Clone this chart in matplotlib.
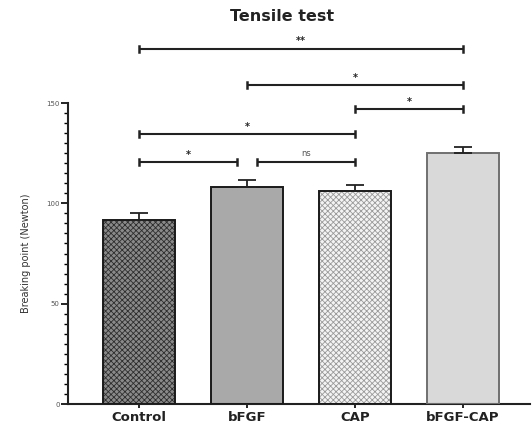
import numpy as np
import matplotlib
matplotlib.use("Agg")
import matplotlib.pyplot as plt

# =========================
# DATA
# =========================
groups = ["Control", "bFGF", "CAP", "bFGF-CAP"]
means = [91.5, 108.3, 106.3, 125.2]
errors = [3.5, 3.5, 3.0, 3.0]

# significance brackets: (left group, right group, label, height)
sig_pairs = [(0, 1), (1, 2), (0, 2), (2, 3), (1, 3), (0, 3)]
sig_labels = ["*", "ns", "*", "*", "*", "**"]
sig_heights = [120.5, 120.5, 134.5, 147.0, 159.0, 177.0]

# =========================
# STYLE
# =========================
face_colors = ["#8a8a8a", "#a9a9a9", "#f4f4f4", "#d9d9d9"]
hatch_colors = ["#2e2e2e", "#a9a9a9", "#9a9a9a", "#d9d9d9"]
hatches = ["xxxxxx", "", "xxxxxx", ""]
outline_colors = ["#1a1a1a", "#1a1a1a", "#1a1a1a", "#707070"]

plt.rcParams["font.family"] = "DejaVu Sans"
plt.rcParams["hatch.linewidth"] = 0.6

fig = plt.figure(figsize=(5.32, 4.25), dpi=100)
ax = fig.add_axes([0.128, 0.0494, 0.868, 0.7082])

x = np.arange(len(groups))
width = 0.66

# hatched fill first, then outline on top
ax.bar(x, means, width, color=face_colors, edgecolor=hatch_colors,
       hatch=hatches, linewidth=0, zorder=2)
ax.bar(x, means, width, color="none", edgecolor=outline_colors,
       linewidth=1.4, zorder=3)

# upper error bars only
ax.errorbar(x, means, yerr=[np.zeros(len(errors)), errors], fmt="none",
            ecolor="#222222", elinewidth=1.3, capsize=6.5, capthick=1.3,
            zorder=4)

ax.set_xlim(-0.657, 3.62)
ax.set_ylim(0, 150)

# =========================
# AXES
# =========================
for side in ["top", "right"]:
    ax.spines[side].set_visible(False)
ax.spines["left"].set_linewidth(1.5)
ax.spines["bottom"].set_linewidth(1.5)
ax.spines["left"].set_color("#222222")
ax.spines["bottom"].set_color("#222222")

ax.set_yticks([0, 50, 100, 150])
ax.set_yticks(np.arange(0, 151, 5), minor=True)
ax.tick_params(axis="y", which="major", length=5, width=1.2,
               labelsize=5, labelcolor="#555555", pad=1)
ax.tick_params(axis="y", which="minor", length=3, width=1.0)

ax.set_xticks(x)
ax.set_xticklabels(groups, fontweight="bold", fontsize=9.5)
ax.tick_params(axis="x", length=3, width=1.2, pad=2, labelcolor="#222222")

ax.set_ylabel("Breaking point (Newton)", fontsize=7, labelpad=11,
              color="#333333")

# =========================
# SIGNIFICANCE BRACKETS
# =========================
for (a, b), label, h in zip(sig_pairs, sig_labels, sig_heights):
    xa = x[a]
    xb = x[b]
    if a == 0 and b == 1:
        xb = x[b] - 0.09
    if a == 1 and b == 2:
        xa = x[a] + 0.09
    ax.plot([xa, xb], [h, h], color="#222222", lw=1.5, clip_on=False,
            solid_capstyle="butt")
    for xe in (xa, xb):
        ax.plot([xe, xe], [h - 1.5, h + 1.5], color="#222222", lw=1.8,
                clip_on=False)
    if label == "ns":
        ax.text((xa + xb) / 2, h + 2.2, label, ha="center", va="bottom",
                fontsize=6, color="#555555")
    else:
        ax.text((xa + xb) / 2, h + 1.2, label, ha="center", va="bottom",
                fontsize=7, fontweight="bold", color="#222222")

fig.text(0.53, 0.962, "Tensile test", ha="center", va="center",
         fontsize=11.5, fontweight="bold", color="#222222")

fig.savefig("out.png", dpi=100)
